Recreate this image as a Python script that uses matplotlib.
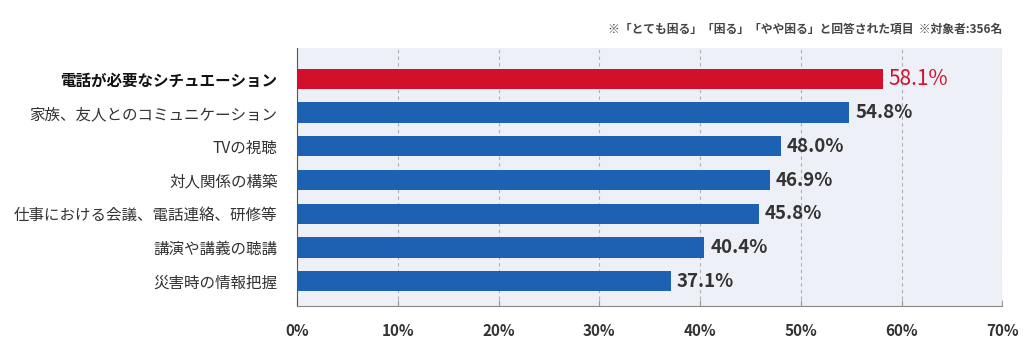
import matplotlib
matplotlib.use("Agg")
import matplotlib.pyplot as plt
from matplotlib.ticker import FuncFormatter

plt.rcParams['font.family'] = ['Noto Sans CJK JP', 'DejaVu Sans']

# Survey items and share of respondents (%)
categories = [
    "電話が必要なシチュエーション",
    "家族、友人とのコミュニケーション",
    "TVの視聴",
    "対人関係の構築",
    "仕事における会議、電話連絡、研修等",
    "講演や講義の聴講",
    "災害時の情報把握",
]
values = [58.1, 54.8, 48.0, 46.9, 45.8, 40.4, 37.1]
highlight = [True, False, False, False, False, False, False]
xticks = [0, 10, 20, 30, 40, 50, 60, 70]
note = "※「とても困る」「困る」「やや困る」と回答された項目  ※対象者:356名"

RED = "#d2102c"
BLUE = "#1d61b3"
TEXT = "#333333"
BG = "#eef0f7"

fig = plt.figure(figsize=(10.24, 3.42), dpi=100)
ax = fig.add_axes([0.290, 0.105, 0.689, 0.755])
ax.set_facecolor(BG)

ypos = list(range(len(categories)))
colors = [RED if h else BLUE for h in highlight]
ax.barh(ypos, values, height=0.6, color=colors, zorder=3)

for y, v, h in zip(ypos, values, highlight):
    ax.text(v + 0.6, y, f"{v:.1f}%", va="center", ha="left",
            fontsize=15 if h else 13.5, color=RED if h else TEXT,
            fontweight="normal" if h else "bold", zorder=4)

ax.set_xlim(0, 70)
ax.set_ylim(6.74, -0.92)
ax.set_xticks(xticks)
ax.xaxis.set_major_formatter(FuncFormatter(lambda x, _: f"{x:.0f}%"))
ax.set_yticks(ypos)
ax.set_yticklabels(categories)
for lbl, h in zip(ax.get_yticklabels(), highlight):
    lbl.set_fontsize(11.2)
    lbl.set_color(TEXT)
    if h:
        lbl.set_fontweight("bold")
        lbl.set_color("#111111")

ax.tick_params(axis="y", length=0, pad=14)
ax.tick_params(axis="x", direction="in", length=4, color="#999999",
               labelsize=11, labelcolor=TEXT, pad=12)
for lbl in ax.get_xticklabels():
    lbl.set_fontweight("bold")

ax.grid(axis="x", linestyle=(0, (3, 3)), color="#b0b0b0", linewidth=0.8, zorder=1)
for s in ["top", "right"]:
    ax.spines[s].set_visible(False)
ax.spines["left"].set_color("#555555")
ax.spines["bottom"].set_color("#888888")

fig.text(0.979, 0.915, note, ha="right", va="center", fontsize=8.5,
         color="#444444", fontweight="bold")

fig.savefig("out.png", dpi=100, facecolor="white")
